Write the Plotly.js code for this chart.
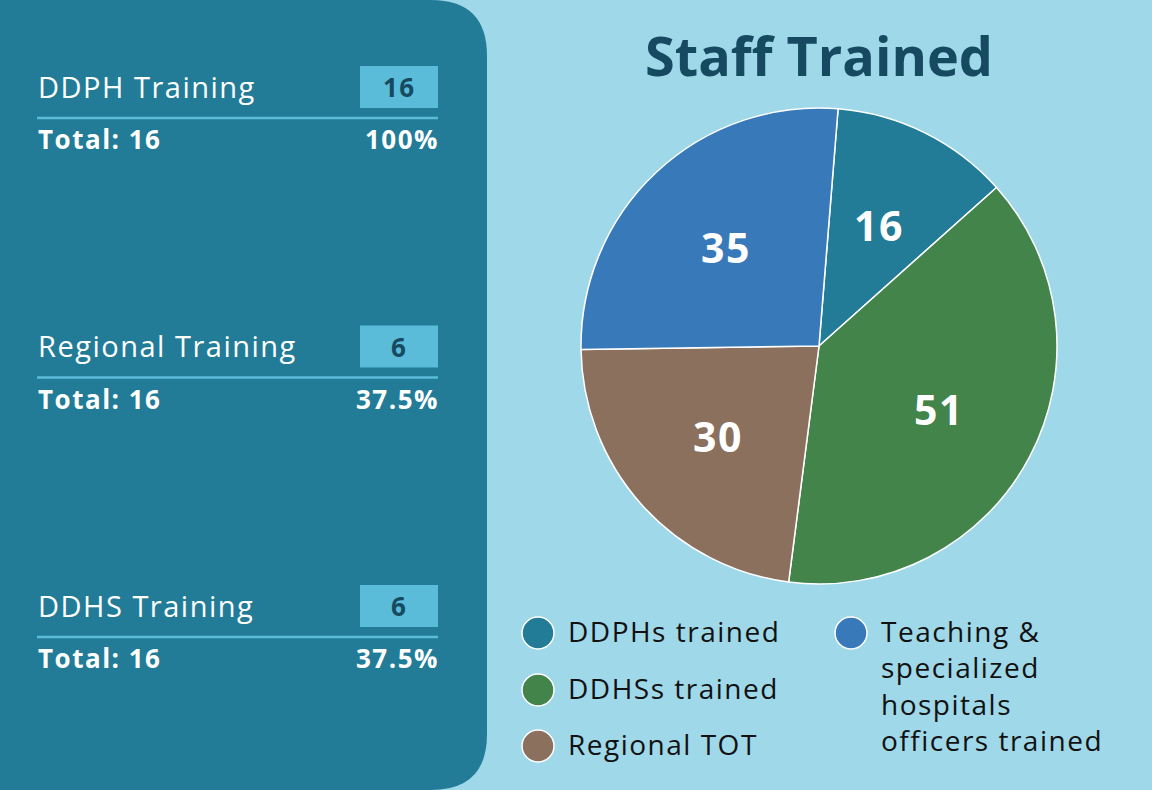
<!DOCTYPE html>
<html>
<head>
<meta charset="utf-8">
<script src="https://cdn.plot.ly/plotly-3.0.1.min.js"></script>
<style>
html,body{margin:0;padding:0;background:#9fd8e8;}
#chart{width:1152px;height:790px;}
.annotation-text{letter-spacing:1.5px;}
</style>
</head>
<body>
<div id="chart"></div>
<script>
// ---- data ----
var sliceLabels = ['DDPHs trained', 'DDHSs trained', 'Regional TOT', 'Teaching & specialized hospitals officers trained'];
var legendLabels = ['DDPHs trained', 'DDHSs trained', 'Regional TOT', 'Teaching &<br>specialized<br>hospitals<br>officers trained'];
var sliceValues = [16, 51, 30, 35];
var sliceColors = ['#237c97', '#43844a', '#8b705e', '#3879b9'];

var trainingNames = ['DDPH Training', 'Regional Training', 'DDHS Training'];
var trainingCounts = [16, 6, 6];
var trainingTotals = [16, 16, 16];

var chartTitle = 'Staff Trained';

// ---- layout helpers ----
var W = 1152, H = 790;
var FONT = 'Open Sans, Lato, sans-serif';
var panelColor = '#237c97';
var accent = '#5bbcd9';
var shapes = [];
var annotations = [];

// left panel with rounded right corners (pixel coords via hidden axes)
var pr = 487, rad = 56;
shapes.push({
  type: 'path', xref: 'x', yref: 'y', layer: 'below',
  path: 'M0,0 H' + (pr - rad) + ' Q' + pr + ',0 ' + pr + ',' + rad +
        ' V' + (H - rad) + ' Q' + pr + ',' + H + ' ' + (pr - rad) + ',' + H + ' H0 Z',
  fillcolor: panelColor, line: {width: 0}
});

trainingNames.forEach(function (name, i) {
  var top = 66 + i * 259.5;
  shapes.push({type: 'rect', xref: 'x', yref: 'y', x0: 360, x1: 438, y0: top, y1: top + 42,
               fillcolor: accent, line: {width: 0}});
  shapes.push({type: 'line', xref: 'x', yref: 'y', x0: 37, x1: 438, y0: top + 52, y1: top + 52,
               line: {color: accent, width: 2.5}});
  annotations.push({xref: 'x', yref: 'y', x: 36, y: top + 20, xanchor: 'left', yanchor: 'middle',
                    text: name, showarrow: false, font: {family: FONT, size: 29, color: '#ffffff', weight: 500}});
  annotations.push({xref: 'x', yref: 'y', x: 399, y: top + 21, xanchor: 'center', yanchor: 'middle',
                    text: '<b>' + trainingCounts[i] + '</b>', showarrow: false, font: {family: FONT, size: 26, color: '#164a60'}});
  annotations.push({xref: 'x', yref: 'y', x: 36, y: top + 73, xanchor: 'left', yanchor: 'middle',
                    text: '<b>Total: ' + trainingTotals[i] + '</b>', showarrow: false, font: {family: FONT, size: 26, color: '#ffffff'}});
  var pct = Math.round(trainingCounts[i] / trainingTotals[i] * 1000) / 10;
  annotations.push({xref: 'x', yref: 'y', x: 441, y: top + 73, xanchor: 'right', yanchor: 'middle',
                    text: '<b>' + pct + '%</b>', showarrow: false, font: {family: FONT, size: 26, color: '#ffffff'}});
});

// custom legend (circles)
var legPos = [[538, 633], [538, 690], [538, 746], [851, 633]];
legendLabels.forEach(function (lab, i) {
  var p = legPos[i];
  shapes.push({type: 'circle', xref: 'x', yref: 'y', x0: p[0] - 16, x1: p[0] + 16, y0: p[1] - 16, y1: p[1] + 16,
               fillcolor: sliceColors[i], line: {color: '#ffffff', width: 1.5}});
  annotations.push({xref: 'x', yref: 'y', x: p[0] + 28, y: p[1] - 23, xanchor: 'left', yanchor: 'top', align: 'left',
                    text: lab, showarrow: false, font: {family: FONT, size: 28, color: '#111111', weight: 500}});
});

// pie geometry
var cx = 819, cy = 346, R = 238, rotation = 4.6;

// value labels placed along each slice's mid-angle (computed from the values)
var total = sliceValues.reduce(function (a, b) { return a + b; }, 0);
var acc = 0;
sliceValues.forEach(function (v) {
  var mid = (rotation + (acc + v / 2) / total * 360) * Math.PI / 180;
  acc += v;
  annotations.push({xref: 'x', yref: 'y', x: cx + 0.57 * R * Math.sin(mid), y: cy - 0.57 * R * Math.cos(mid),
                    xanchor: 'center', yanchor: 'middle', text: '<b>' + v + '</b>', showarrow: false,
                    font: {family: FONT, size: 41, color: '#ffffff'}});
});

var data = [{
  type: 'pie',
  labels: sliceLabels,
  values: sliceValues,
  sort: false,
  direction: 'clockwise',
  rotation: rotation,
  marker: {colors: sliceColors, line: {color: '#ffffff', width: 1.5}},
  textinfo: 'none',
  hoverinfo: 'label+value',
  showlegend: false,
  domain: {x: [(cx - R) / W, (cx + R) / W], y: [1 - (cy + R) / H, 1 - (cy - R) / H]}
}];

var layout = {
  width: W, height: H,
  margin: {l: 0, r: 0, t: 0, b: 0},
  paper_bgcolor: '#9fd8e8',
  plot_bgcolor: 'rgba(0,0,0,0)',
  showlegend: false,
  title: {text: '<b>' + chartTitle + '</b>', x: 819 / W, xanchor: 'center', y: 1 - 57 / H, yanchor: 'middle',
          xref: 'paper', yref: 'paper', font: {family: FONT, size: 54, color: '#164a60'}},
  xaxis: {range: [0, W], visible: false, fixedrange: true, domain: [0, 1]},
  yaxis: {range: [H, 0], visible: false, fixedrange: true, domain: [0, 1]},
  shapes: shapes,
  annotations: annotations
};

Plotly.newPlot('chart', data, layout, {displayModeBar: false, staticPlot: true});
</script>
</body>
</html>
